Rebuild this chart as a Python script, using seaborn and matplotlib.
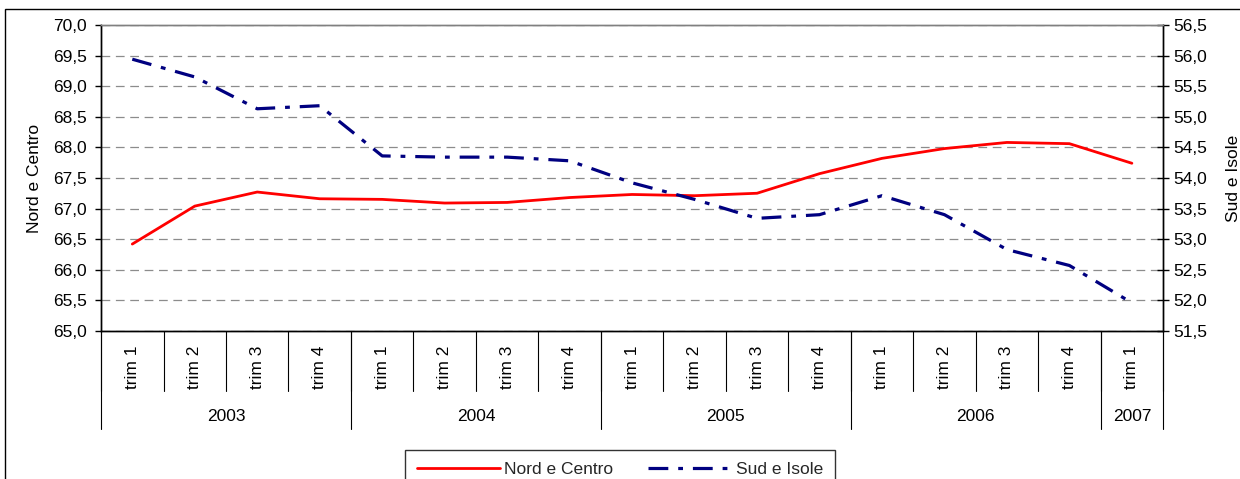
import matplotlib
matplotlib.use('Agg')
import matplotlib.pyplot as plt
import matplotlib.ticker as mticker
from matplotlib.patches import Rectangle
import seaborn as sns
import pandas as pd

# data
trimestri = ['trim 1', 'trim 2', 'trim 3', 'trim 4'] * 4 + ['trim 1']
anni = ['2003', '2004', '2005', '2006', '2007']
anni_n = [4, 4, 4, 4, 1]
nord_centro = [66.42, 67.04, 67.27, 67.16, 67.15, 67.09, 67.10, 67.18, 67.23,
               67.21, 67.25, 67.57, 67.82, 67.98, 68.08, 68.06, 67.74]
sud_isole = [55.94, 55.65, 55.13, 55.18, 54.36, 54.34, 54.34, 54.28, 53.92,
             53.65, 53.34, 53.40, 53.71, 53.40, 52.83, 52.57, 51.96]

df = pd.DataFrame({'x': range(len(trimestri)), 'nord': nord_centro, 'sud': sud_isole})

sns.set_theme(style='white')
plt.rcParams['font.family'] = ['Liberation Sans', 'DejaVu Sans']
fs = 12.5

fig = plt.figure(figsize=(12.4, 4.79), dpi=100)
ax = fig.add_axes([0.0815, 0.309, 0.8565, 0.639])
ax2 = ax.twinx()

sns.lineplot(data=df, x='x', y='nord', ax=ax, color='#ff0000', linewidth=2, label='Nord e Centro', legend=False)
sns.lineplot(data=df, x='x', y='sud', ax=ax2, color='#000080', linewidth=2.3, label='Sud e Isole', legend=False)
ax2.lines[0].set_dashes([6.2, 3.1, 1.5, 3.1])

fmt = mticker.FuncFormatter(lambda v, p: f'{v:.1f}'.replace('.', ','))
ax.set_ylim(65, 70)
ax.set_yticks([65 + 0.5 * i for i in range(11)])
ax.yaxis.set_major_formatter(fmt)
ax2.set_ylim(51.5, 56.5)
ax2.set_yticks([51.5 + 0.5 * i for i in range(11)])
ax2.yaxis.set_major_formatter(fmt)
ax.set_xlim(-0.5, 16.5)
ax.grid(axis='y', color='#8c8c8c', linestyle=(0, (7, 4.5)), linewidth=0.9)
ax.set_xticks([])
ax.set_xlabel('')
ax2.set_xlabel('')

ax.set_ylabel('Nord e Centro', fontsize=fs, color='black', labelpad=8)
ax2.set_ylabel('Sud e Isole', fontsize=fs, color='black', rotation=90, labelpad=13)
ax.tick_params(axis='y', labelsize=fs, colors='black', left=True, direction='out', length=4, width=1, pad=6)
ax2.tick_params(axis='y', labelsize=fs, colors='black', right=True, direction='inout', length=9, width=1, pad=3)

for a in (ax, ax2):
    for s in a.spines.values():
        s.set_color('black')
        s.set_linewidth(1)
ax.spines['top'].set_color('#808080')
ax2.spines['top'].set_color('#808080')

# category labels and separators under the axis
trans = ax.get_xaxis_transform()
for i, t in enumerate(trimestri):
    ax.text(i, -0.12, t, transform=trans, rotation=90, ha='center', va='center', fontsize=fs, color='black')
for i in range(len(trimestri) + 1):
    ax.plot([i - 0.5, i - 0.5], [0, -0.196], transform=trans, color='black', lw=0.8, clip_on=False)
start = 0
for anno, n in zip(anni, anni_n):
    ax.text(start + n / 2 - 0.5, -0.281, anno, transform=trans, ha='center', va='center', fontsize=fs, color='black')
    ax.plot([start - 0.5, start - 0.5], [0, -0.32], transform=trans, color='black', lw=0.8, clip_on=False)
    start += n
ax.plot([start - 0.5, start - 0.5], [0, -0.32], transform=trans, color='black', lw=0.8, clip_on=False)

# legend
handles = ax.lines[:1] + ax2.lines[:1]
leg = fig.legend(handles, ['Nord e Centro', 'Sud e Isole'], loc='upper center', bbox_to_anchor=(0.5, 0.061),
                 ncol=2, fontsize=fs, frameon=True, fancybox=False, edgecolor='black', handlelength=4.8,
                 columnspacing=2.0, borderpad=0.7, handletextpad=0.25, borderaxespad=0)
leg.get_frame().set_linewidth(1)

fig.patches.append(Rectangle((0.004, -0.1), 1.0, 1.081, transform=fig.transFigure, fill=False,
                             edgecolor='black', linewidth=1))

fig.savefig('out.png', dpi=100, facecolor='white')
